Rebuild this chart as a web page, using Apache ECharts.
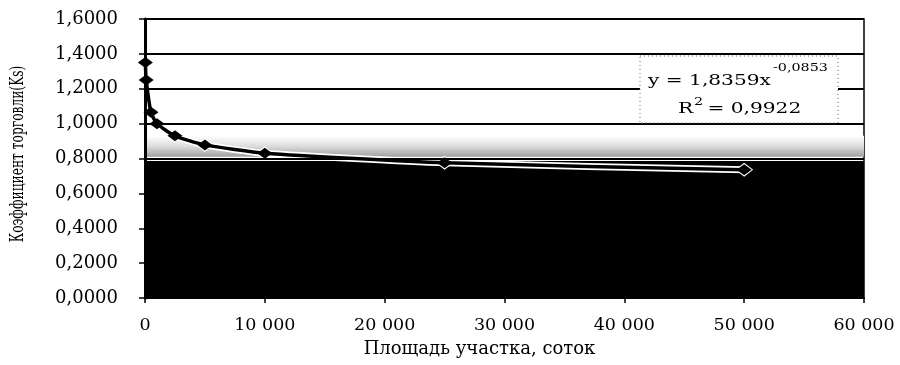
<!DOCTYPE html>
<html>
<head>
<meta charset="utf-8">
<script src="https://cdn.jsdelivr.net/npm/echarts@6/dist/echarts.min.js"></script>
<style>html,body{margin:0;padding:0;background:#fff}#c{width:900px;height:365px}</style>
</head>
<body>
<div id="c"></div>
<script>
// Data
const areaValues = [30, 100, 500, 1000, 2500, 5000, 10000, 25000, 50000];
const ksValues = [1.35, 1.25, 1.065, 1.00, 0.93, 0.878, 0.83, 0.775, 0.735];
const xTicks = [0, 10000, 20000, 30000, 40000, 50000, 60000];
const yTicks = [0, 0.2, 0.4, 0.6, 0.8, 1.0, 1.2, 1.4, 1.6];
const xTitle = 'Площадь участка, соток';
const yTitle = 'Коэффициент торговли(Ks)';
const eqMain = 'y = 1,8359x';
const eqExp = '-0,0853';
const r2Label = 'R';
const r2Exp = '2';
const r2Value = ' = 0,9922';

const points = areaValues.map((x, i) => [x, ksValues[i]]);
const serif = 'DejaVu Serif';

const chart = echarts.init(document.getElementById('c'), null, {renderer: 'canvas'});
chart.setOption({
  animation: false,
  backgroundColor: '#fff',
  grid: {left: 145, right: 36, top: 19, bottom: 67, show: true, borderColor: '#000', borderWidth: 1.5, backgroundColor: 'transparent'},
  xAxis: {
    type: 'value', min: xTicks[0], max: xTicks[xTicks.length - 1], interval: 10000,
    name: xTitle, nameLocation: 'middle', nameGap: 42,
    nameTextStyle: {fontFamily: serif, fontSize: 18, color: '#000', padding: [0, 50, 0, 0]},
    axisLine: {show: true, lineStyle: {color: '#000', width: 2}},
    axisTick: {show: true, length: 5, lineStyle: {color: '#000', width: 1.5}},
    splitLine: {show: false},
    axisLabel: {
      fontFamily: serif, fontSize: 17.5, color: '#000', margin: 18,
      formatter: v => String(v).replace(/\B(?=(\d{3})+(?!\d))/g, ' ')
    }
  },
  yAxis: {
    type: 'value', min: yTicks[0], max: yTicks[yTicks.length - 1], interval: 0.2, z: 5,
    axisLine: {show: true, lineStyle: {color: '#000', width: 3}},
    axisTick: {show: true, length: 6, lineStyle: {color: '#000', width: 1.5}},
    splitLine: {show: true, lineStyle: {color: '#000', width: 2}},
    axisLabel: {
      fontFamily: serif, fontSize: 18, color: '#000', margin: 27,
      formatter: v => v.toFixed(4).replace('.', ',')
    }
  },
  series: [
    {
      type: 'line', data: [], z: 1, silent: true,
      markArea: {
        silent: true,
        data: [
          [{yAxis: 0, itemStyle: {color: '#000'}}, {yAxis: 0.785}],
          [{yAxis: 0.81, itemStyle: {color: new echarts.graphic.LinearGradient(0, 0, 0, 1, [
            {offset: 0, color: 'rgba(255,255,255,1)'},
            {offset: 0.5, color: 'rgba(220,220,220,1)'},
            {offset: 1, color: 'rgba(160,160,160,1)'}
          ])}}, {yAxis: 0.93}]
        ]
      }
    },
    {
      type: 'line', data: points, z: 2, silent: true,
      smooth: 0.2,
      lineStyle: {color: '#fff', width: 7},
      symbol: 'diamond', symbolSize: [18, 14],
      itemStyle: {color: '#fff'}
    },
    {
      type: 'line', data: points, z: 3, silent: true,
      smooth: 0.2,
      lineStyle: {color: '#000', width: 3.5},
      symbol: 'diamond', symbolSize: [15, 11],
      itemStyle: {color: '#000', borderWidth: 0}
    }
  ],
  graphic: [
    {
      type: 'text', z: 101, x: 18, y: 154, rotation: Math.PI / 2, scaleX: 0.68,
      style: {text: yTitle, font: '18px "DejaVu Serif"', fill: '#000', textVerticalAlign: 'middle', textAlign: 'center'}
    },
    {
      type: 'rect', z: 100,
      shape: {x: 640, y: 56, width: 198, height: 67},
      style: {fill: '#fff', stroke: '#666', lineWidth: 1, lineDash: [1, 3]}
    },
    {
      type: 'text', z: 101, x: 648, y: 80.5, scaleX: 1.3,
      style: {text: eqMain, font: '15.5px "DejaVu Serif"', fill: '#000', textVerticalAlign: 'middle', textAlign: 'left'}
    },
    {
      type: 'text', z: 101, x: 773, y: 68, scaleX: 1.3,
      style: {text: eqExp, font: '11px "DejaVu Serif"', fill: '#000', textVerticalAlign: 'middle', textAlign: 'left'}
    },
    {
      type: 'text', z: 101, x: 678, y: 108.5, scaleX: 1.3,
      style: {text: r2Label, font: '15.5px "DejaVu Serif"', fill: '#000', textVerticalAlign: 'middle', textAlign: 'left'}
    },
    {
      type: 'text', z: 101, x: 694, y: 102, scaleX: 1.3,
      style: {text: r2Exp, font: '11px "DejaVu Serif"', fill: '#000', textVerticalAlign: 'middle', textAlign: 'left'}
    },
    {
      type: 'text', z: 101, x: 701, y: 108.5, scaleX: 1.3,
      style: {text: r2Value, font: '15.5px "DejaVu Serif"', fill: '#000', textVerticalAlign: 'middle', textAlign: 'left'}
    }
  ]
});
</script>
</body>
</html>
